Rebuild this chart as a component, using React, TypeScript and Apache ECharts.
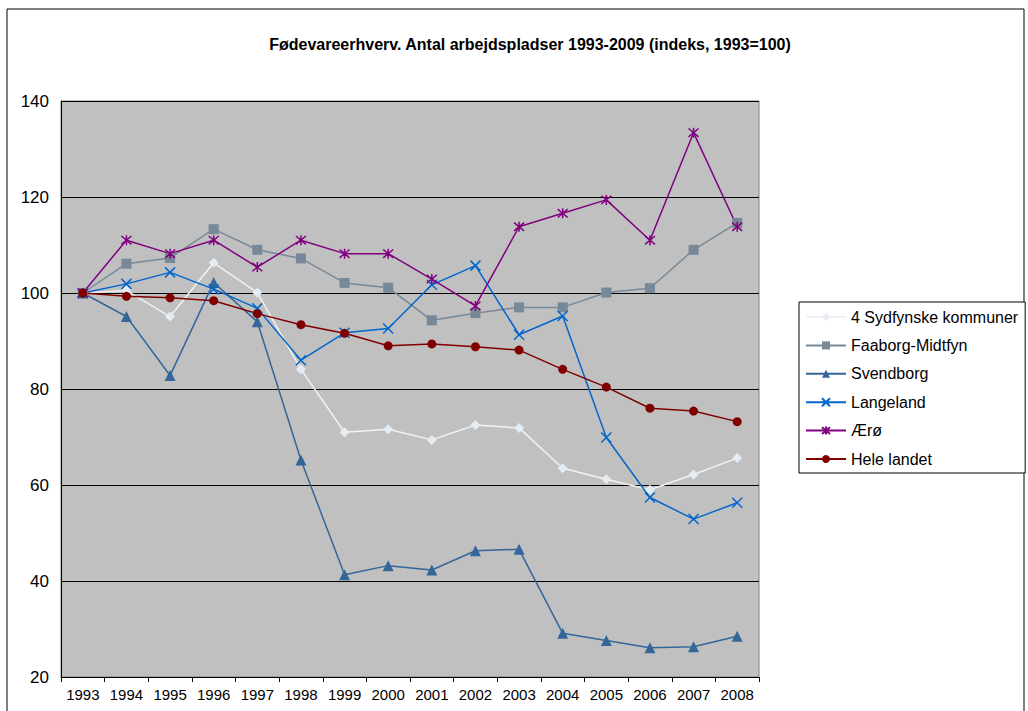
import React, { useEffect, useRef } from "react";
import * as echarts from "echarts";

const years = ["1993","1994","1995","1996","1997","1998","1999","2000","2001","2002","2003","2004","2005","2006","2007","2008"];
const sydfynske = [100, 100.5, 95.1, 106.3, 100.1, 84.1, 71.0, 71.6, 69.4, 72.5, 71.9, 63.5, 61.2, 59.0, 62.2, 65.6];
const faaborg = [100, 106.1, 107.3, 113.3, 109.0, 107.2, 102.1, 101.1, 94.3, 95.8, 97.0, 97.0, 100.1, 101.0, 109.0, 114.6];
const svendborg = [100, 95.1, 82.8, 102.2, 94.0, 65.2, 41.3, 43.2, 42.3, 46.3, 46.6, 29.1, 27.6, 26.1, 26.3, 28.5];
const langeland = [100, 101.9, 104.3, 100.8, 96.8, 86.0, 91.7, 92.6, 101.7, 105.7, 91.3, 95.2, 69.9, 57.4, 52.9, 56.3];
const aeroe = [100, 111.0, 108.2, 111.0, 105.4, 111.0, 108.2, 108.2, 102.9, 97.3, 113.8, 116.6, 119.4, 111.0, 133.4, 113.8];
const heleLandet = [100, 99.3, 99.0, 98.4, 95.7, 93.4, 91.6, 89.0, 89.4, 88.8, 88.1, 84.1, 80.4, 76.0, 75.4, 73.2];
const seriesNames = ["4 Sydfynske kommuner", "Faaborg-Midtfyn", "Svendborg", "Langeland", "Ærø", "Hele landet"];
const titleText = "Fødevareerhverv. Antal arbejdspladser 1993-2009 (indeks, 1993=100)";

const FONT = "'Liberation Sans', Arial, sans-serif";

export default function App() {
  const ref = useRef<HTMLDivElement>(null);
  useEffect(() => {
    if (!ref.current) return;
    const chart = echarts.init(ref.current, undefined, { renderer: "svg" });
    const mk = (name: string, data: number[], color: string, lineColor: string, symbol: string, size: number, stroke?: boolean) => ({
      name,
      type: "line",
      data,
      symbol,
      symbolSize: size,
      showSymbol: true,
      lineStyle: { color: lineColor, width: 1.5 },
      itemStyle: stroke
        ? { color: color, borderColor: color, borderWidth: 1.5 }
        : { color: color, borderWidth: 0 },
      emphasis: { disabled: true },
      z: 3,
    });
    chart.setOption({
      animation: false,
      backgroundColor: "#ffffff",
      title: {
        text: titleText,
        left: 525,
        top: 31,
        textAlign: "center",
        textStyle: { fontFamily: FONT, fontSize: 16, fontWeight: "bold", color: "#000" },
      },
      graphic: [
        {
          type: "rect",
          shape: { x: 7, y: 9, width: 1017, height: 720 },
          style: { fill: "none", stroke: "#000", lineWidth: 1 },
          silent: true,
        },
      ],
      grid: {
        left: 61,
        right: 269,
        top: 101,
        bottom: 34,
        show: true,
        backgroundColor: "#C0C0C0",
        borderColor: "#808080",
        borderWidth: 1,
      },
      legend: {
        orient: "vertical",
        left: 799,
        top: 302,
        padding: [7, 7, 6, 6],
        itemGap: 12.4,
        itemWidth: 40,
        itemHeight: 10,
        backgroundColor: "#fff",
        borderColor: "#000",
        borderWidth: 1,
        borderRadius: 0,
        data: seriesNames,
        textStyle: { fontFamily: FONT, fontSize: 16, color: "#000", lineHeight: 16, padding: [0, 0, 0, 0] },
      },
      xAxis: {
        type: "category",
        data: years,
        boundaryGap: true,
        axisLine: { show: true, lineStyle: { color: "#000", width: 1 } },
        axisTick: { show: true, alignWithLabel: false, length: 5, lineStyle: { color: "#000" } },
        axisLabel: { fontFamily: FONT, fontSize: 15, color: "#000", margin: 10, interval: 0 },
        splitLine: { show: false },
      },
      yAxis: {
        type: "value",
        min: 20,
        max: 140,
        interval: 20,
        axisLine: { show: true, lineStyle: { color: "#000", width: 1 } },
        axisTick: { show: false },
        axisLabel: { fontFamily: FONT, fontSize: 17, color: "#000", margin: 12 },
        splitLine: { show: true, lineStyle: { color: "#000", width: 1 } },
      },
      series: [
        mk(seriesNames[0], sydfynske, "#E4ECF4", "#F2F2F2", "diamond", 10),
        mk(seriesNames[1], faaborg, "#778899", "#778899", "rect", 10),
        mk(seriesNames[2], svendborg, "#336699", "#336699", "triangle", 11),
        mk(seriesNames[3], langeland, "#0066CC", "#0066CC", "path://M0,0L10,10M10,0L0,10", 10, true),
        mk(seriesNames[4], aeroe, "#800080", "#800080", "path://M0,0L10,10M10,0L0,10M5,-1L5,11", 10, true),
        mk(seriesNames[5], heleLandet, "#800000", "#800000", "circle", 9),
      ],
    });
    return () => chart.dispose();
  }, []);
  return (
    <div
      ref={ref}
      style={{ position: "fixed", left: 0, top: 0, width: 1028, height: 711 }}
    />
  );
}
